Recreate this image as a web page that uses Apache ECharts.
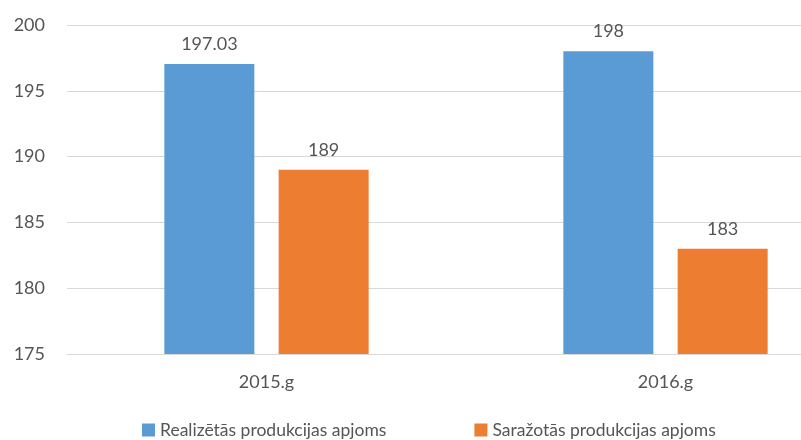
<!DOCTYPE html>
<html><head><meta charset="utf-8">
<script src="https://cdn.jsdelivr.net/npm/echarts@6/dist/echarts.min.js"></script>
<style>html,body{margin:0;padding:0;background:#fff;overflow:hidden}#c{width:866px;height:440px}</style>
</head><body><div id="c"></div>
<script>
const categories = ['2015.g', '2016.g'];
const seriesNames = ['Realizētās produkcijas apjoms', 'Saražotās produkcijas apjoms'];
const realized = [197.03, 198];
const produced = [189, 183];
const yTicks = [175, 180, 185, 190, 195, 200];

const FONT = 'Lato';
const TXT = '#555555';
const chart = echarts.init(document.getElementById('c'), null, {renderer: 'canvas'});
const lbl = {show: true, position: 'top', distance: 11, color: TXT, fontFamily: FONT, fontSize: 18};
chart.setOption({
  animation: false,
  textStyle: {fontFamily: FONT},
  grid: {left: 67, top: 25, right: 1, bottom: 86, containLabel: false},
  legend: {
    top: 416, left: 137, itemWidth: 13, itemHeight: 13, itemGap: 88,
    icon: 'rect',
    textStyle: {color: TXT, fontFamily: FONT, fontSize: 17.5},
    data: seriesNames
  },
  xAxis: {
    type: 'category', data: categories,
    axisLine: {lineStyle: {color: '#d9d9d9'}},
    axisTick: {show: false},
    axisLabel: {color: TXT, fontFamily: FONT, fontSize: 18, margin: 19}
  },
  yAxis: {
    type: 'value', min: yTicks[0], max: yTicks[yTicks.length - 1], interval: 5,
    axisLine: {show: false}, axisTick: {show: false},
    splitLine: {lineStyle: {color: '#d9d9d9'}},
    axisLabel: {color: TXT, fontFamily: FONT, fontSize: 18, margin: 22}
  },
  series: [
    {name: seriesNames[0], type: 'bar', data: realized, barWidth: 90, barGap: '27%',
     itemStyle: {color: '#5b9bd5'}, label: lbl},
    {name: seriesNames[1], type: 'bar', data: produced, barWidth: 90,
     itemStyle: {color: '#ed7d31'}, label: lbl}
  ]
});
</script></body></html>
